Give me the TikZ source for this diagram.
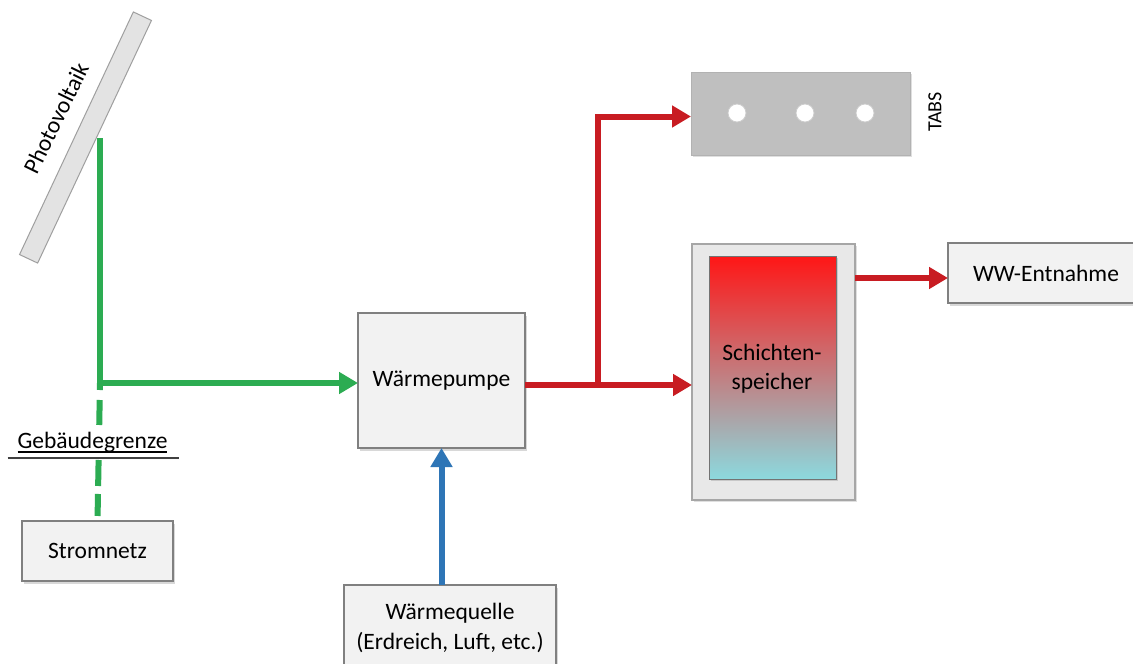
\documentclass[tikz,border=0pt]{standalone}
\usepackage{fontspec}
\setmainfont{Carlito}
\usetikzlibrary{arrows.meta,shadows,calc}
\definecolor{grn}{RGB}{44,172,82}
\definecolor{rd}{RGB}{200,28,34}
\definecolor{bl}{RGB}{46,117,182}
\definecolor{boxfill}{RGB}{242,242,242}
\definecolor{boxline}{RGB}{128,128,128}
\begin{document}
\begin{tikzpicture}[x=1pt,y=-1pt,
  every node/.style={inner sep=0pt,outer sep=0pt,font=\fontsize{23.5}{28}\selectfont},
  sbox/.style={draw=boxline,fill=boxfill,line width=1.2pt,
    drop shadow={shadow xshift=1.5pt,shadow yshift=-2.5pt,opacity=0.3,fill=gray}},
  flow/.style={line width=6pt},
  tip/.style={-{Triangle[length=19pt,width=21pt]}},
  gline/.style={flow,draw=grn},
  rline/.style={flow,draw=rd},
  bline/.style={flow,draw=bl}]
\clip (0,0) rectangle (1133,664);
\fill[white] (0,0) rectangle (1133,664);

% Photovoltaik
\node[draw=gray!75,fill=gray!22,line width=1pt,minimum width=268pt,minimum height=20pt,rotate=64.87] (pv) at (85.5,137.5) {};
\node[rotate=64] (pvl) at (56,118) {Photovoltaik};

% boxes
\node[sbox,minimum width=151pt,minimum height=60pt,align=center] (strom) at (97.5,551) {Stromnetz};
\node[sbox,minimum width=167pt,minimum height=135pt,align=center] (wp) at (441.5,380.5) {Wärmepumpe};
\node[sbox,minimum width=212pt,minimum height=86pt,align=center] (wq) at (450,628) {Wärmequelle\\[2pt](Erdreich, Luft, etc.)};
\node[draw=gray!60,fill=gray!50,line width=1pt,minimum width=219pt,minimum height=83pt,
  drop shadow={shadow xshift=1.5pt,shadow yshift=-2pt,opacity=0.25,fill=gray}] (tabs) at (800.5,113.5) {};
\foreach \cx/\nm in {737/c1,805/c2,865/c3}
  \node[circle,fill=white,draw=gray!40,line width=0.8pt,minimum size=18pt] (\nm) at (\cx,113) {};
\node[rotate=90,font=\fontsize{20}{24}\selectfont] (tabsl) at (935,112) {TABS};

\node[draw=gray!70,fill=gray!18,line width=1.5pt,minimum width=163pt,minimum height=256pt,
  drop shadow={shadow xshift=1.5pt,shadow yshift=-2pt,opacity=0.25,fill=gray}] (spo) at (773.5,372) {};
\node[draw=gray!90!black,line width=1pt,minimum width=127pt,minimum height=223pt,
  top color={rgb,255:red,255;green,22;blue,22},
  middle color={rgb,255:red,200;green,160;blue,168},
  bottom color={rgb,255:red,140;green,217;blue,222},
  drop shadow={shadow xshift=1.5pt,shadow yshift=-1.5pt,opacity=0.3,fill=gray}] (spi) at (772.5,367.5) {};
\node[align=center] (spt) at (772,369) {Schichten-\\[1pt]speicher};

\node[sbox,minimum width=196pt,minimum height=60pt] (ww) at (1046,273) {WW-Entnahme};

% Gebaeudegrenze
\node[anchor=base] (gb) at (92.5,448) {Gebäudegrenze};
\draw[line width=1.3pt,black] ([yshift=-4pt]gb.base west) -- ([yshift=-4pt]gb.base east);
\draw[line width=1.6pt,black!75,
  drop shadow={shadow xshift=0pt,shadow yshift=-1.5pt,opacity=0.3}] ([xshift=-10pt,yshift=-10pt]gb.base west) -- ([xshift=12pt,yshift=-10pt]gb.base east);

% green connectors
\coordinate (pvtop) at (100,138);
\coordinate (j) at (100,383);
\draw[gline] (pvtop) -- (j);
\draw[gline,tip] ([xshift=-3pt]j) -- (j -| wp.west);
\draw[gline,dash pattern=on 7pt off 10pt on 25pt off 35pt on 26pt off 8pt on 22pt off 20pt] (j) -- (strom.north);

% red connectors
\coordinate (b) at (598,385);
\draw[rline,tip] (b -| wp.east) -- (b -| spo.west);
\draw[rline,tip] ([yshift=3pt]b) |- ($(tabs.west)+(0,3)$);
\coordinate (wwy) at (900,278);
\draw[rline,tip] (wwy -| spo.east) -- (wwy -| ww.west);

% blue connector
\draw[bline,tip] (wq.north -| wp.south) -- (wp.south);
\end{tikzpicture}
\end{document}
